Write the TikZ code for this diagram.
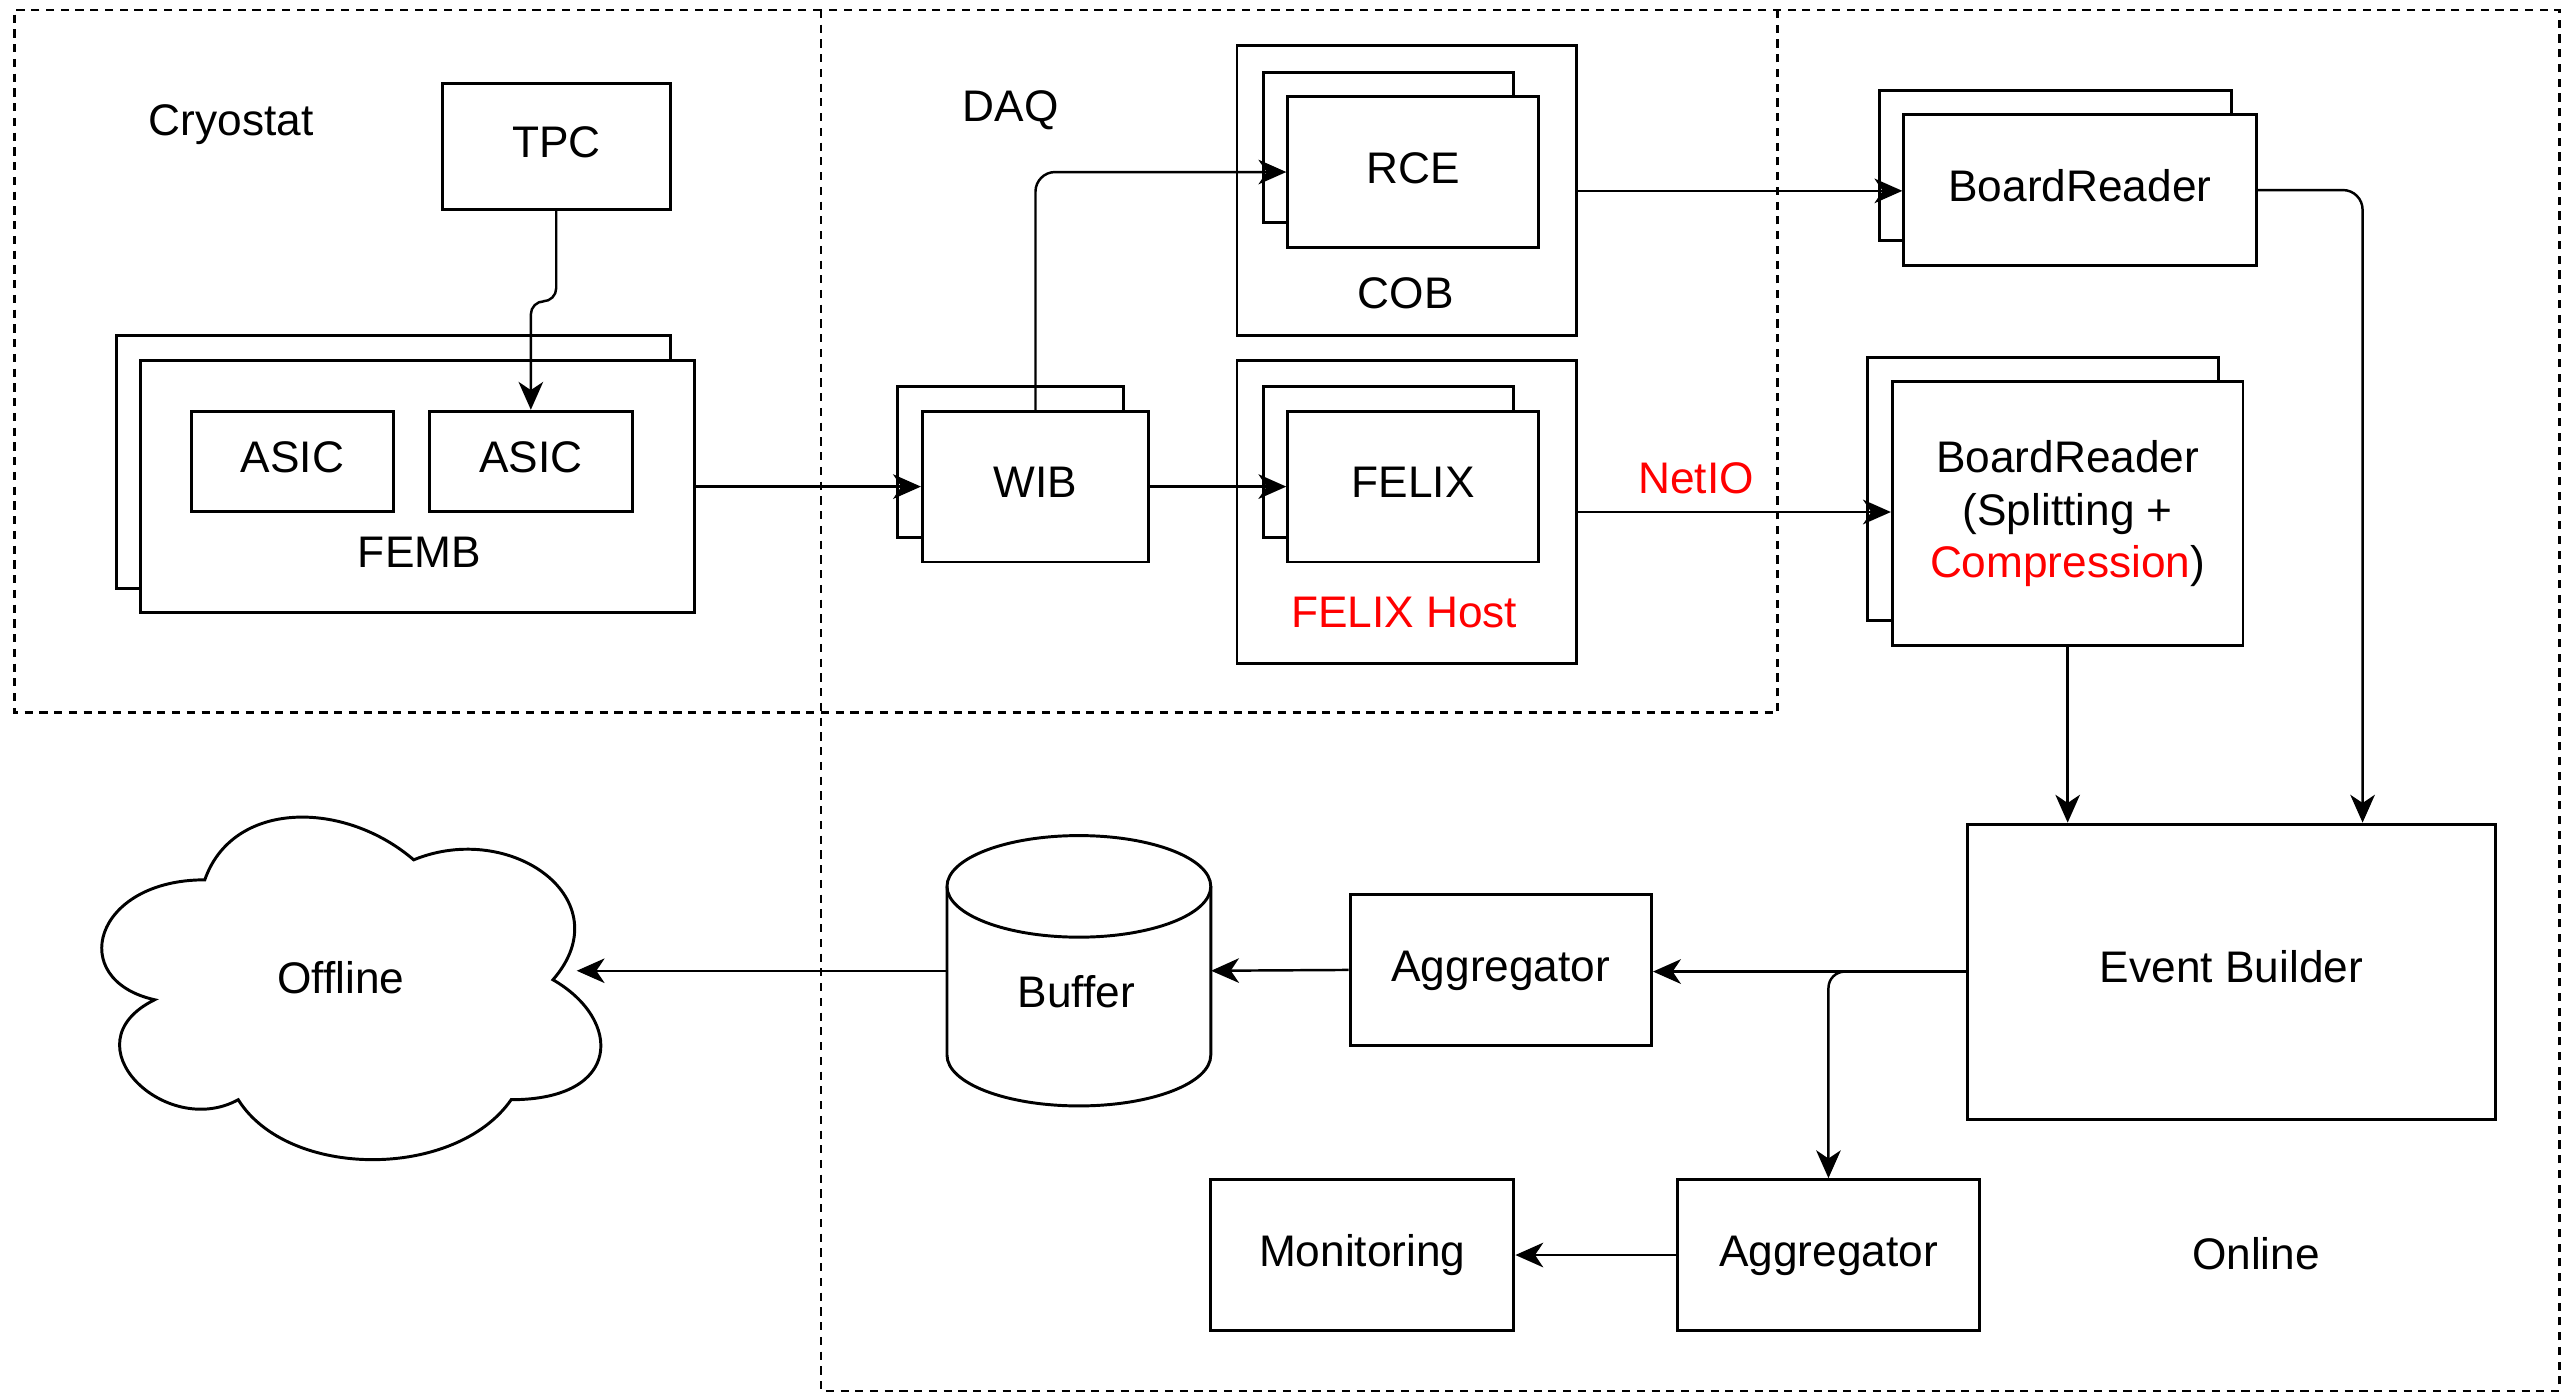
\documentclass[tikz,border=0pt]{standalone}
\usepackage{fontspec}
\setmainfont{Liberation Sans}
\usepackage{tikz}
\usetikzlibrary{arrows.meta,shadows}

\begin{document}
\begin{tikzpicture}[x=1pt,y=1pt,yscale=-1,
  font=\fontsize{27}{32}\selectfont,
  blk/.style={draw,line width=1.8pt,fill=white,inner sep=0pt,align=center},
  box/.style={blk,text height=19.5pt,text depth=6pt},
  stack/.style={copy shadow={shadow xshift=-15pt,shadow yshift=15pt}},
  region/.style={line width=1.6pt,dash pattern=on 5pt off 4pt},
  conn/.style={line width=1.5pt,-{Stealth[length=17pt,width=15pt,inset=5pt]}},
  lbl/.style={inner sep=0pt}]
\useasboundingbox (0,0) rectangle (1568,851);

%Dashed Boxes
\draw[region] (501,6) -- (9,6) -- (9,435) -- (1085,435) -- (1085,6);
\draw[region] (501,6) rectangle (1562,849);

% Text Node
\node[lbl] (cryo) at (141,76) {Cryostat};
% Text Node
\node[lbl] (daq) at (617,67) {DAQ};
% Text Node
\node[lbl] (online) at (1377,765) {Online};

%Shape: Rectangle
\node[box,minimum width=139pt,minimum height=77pt] (tpc) at (339.5,89.5) {TPC};
%Shape: Rectangle
\node[box,stack,minimum width=338pt,minimum height=154pt] (femb) at (255,297) {};
\node[box,minimum width=123pt,minimum height=61pt] (asic1) at (178.5,281.5) {ASIC};
\node[box,minimum width=124pt,minimum height=61pt] (asic2) at (324,281.5) {ASIC};
\node[lbl] (fembl) at (256,337) {FEMB};
%Shape: Rectangle
\node[box,stack,minimum width=138pt,minimum height=92pt] (wib) at (632,297) {WIB};
%Shape: Rectangle
\node[box,minimum width=207pt,minimum height=177pt] (cob) at (858.5,116.5) {};
\node[box,stack,minimum width=153pt,minimum height=92pt] (rce) at (862.5,105) {RCE};
\node[lbl] (cobl) at (858,179) {COB};
%Shape: Rectangle
\node[box,minimum width=207pt,minimum height=185pt] (host) at (858.5,312.5) {};
\node[box,stack,minimum width=153pt,minimum height=92pt] (felix) at (862.5,297) {FELIX};
\node[lbl,text=red] (hostl) at (857,374) {FELIX Host};
%Shape: Rectangle
\node[box,stack,minimum width=215pt,minimum height=92pt] (br1) at (1269.5,116) {BoardReader};
%Shape: Rectangle
\node[blk,stack,minimum width=214pt,minimum height=161pt] (br2) at (1262,313.5) {BoardReader\\(Splitting +\\\textcolor{red}{Compression})};
%Shape: Rectangle
\node[box,minimum width=322pt,minimum height=180pt] (eb) at (1362,593) {Event Builder};
\node[box,minimum width=184pt,minimum height=92pt] (agg1) at (916,592) {Aggregator};
\node[box,minimum width=184pt,minimum height=92pt] (agg2) at (1116,766) {Aggregator};
\node[box,minimum width=185pt,minimum height=92pt] (mon) at (831.5,766) {Monitoring};

%Shape: Can
\node[inner sep=0pt,minimum width=161pt,minimum height=165pt] (buffer) at (658.5,592.5) {};
\draw[line width=1.8pt] (578,541) -- (578,644) arc[start angle=180,end angle=0,x radius=80.5,y radius=31] -- (739,541);
\draw[line width=1.8pt] (658.5,541) ellipse[x radius=80.5,y radius=31];
\node[lbl] (bufferl) at (657,605) {Buffer};

%Shape: Cloud
\draw[line width=1.8pt] (125,537) .. controls (57,537) and (40,598) .. (94.4,610.2)
  .. controls (40,637) and (101.2,695.6) .. (145.4,671.2)
  .. controls (176,720) and (278,720) .. (312,671.2)
  .. controls (380,671.2) and (380,622.4) .. (337.5,598)
  .. controls (380,549.2) and (312,500.4) .. (252.5,524.8)
  .. controls (210,488.2) and (142,488.2) .. (125,537) -- cycle;
\node[lbl] (offline) at (208,597) {Offline};
\coordinate (offin) at (352,592.5);

%Straight Lines
\draw[conn,rounded corners=8pt] (tpc.south) -- ++(0,55) -| (asic2.north);
\draw[conn] (femb.east) -- (wib.west);
\draw[conn,rounded corners=12pt] (wib.north) |- (rce.west);
\draw[conn] (wib.east) -- (felix.west);
\draw[conn] (cob.east) -- (br1.west |- cob.east);
\draw[conn] (host.east) -- node[pos=0.378,above=10pt,inner sep=0pt,text=red] {NetIO} (br2.west |- host.east);
\draw[conn,rounded corners=12pt] (br1.east) -| ([xshift=80pt]eb.north);
\draw[conn] (br2.south) -- (br2.south |- eb.north);
\draw[conn] (eb.west) -- (agg1.east |- eb.west);
\draw[conn,rounded corners=10pt] (eb.west) -| (agg2.north);
\draw[conn] (agg2.west) -- (mon.east);
\draw[conn] (agg1.west) -- (buffer.east);
\draw[conn] (buffer.west) -- (offin);

\end{tikzpicture}
\end{document}
